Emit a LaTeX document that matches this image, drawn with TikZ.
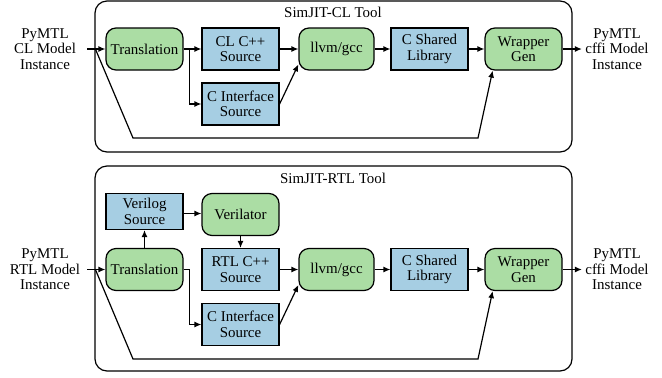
\documentclass[tikz,border=0pt]{standalone}
\usepackage{fontspec}
\setmainfont{Liberation Serif}
\usetikzlibrary{arrows.meta,calc}
\definecolor{stagegreen}{RGB}{171,221,164}
\definecolor{fileblue}{RGB}{166,206,227}
\tikzset{
  stage/.style={draw, line width=1.2bp, fill=stagegreen, rounded corners=10bp, minimum width=77bp, minimum height=42bp, align=center, inner sep=1bp},
  srcfile/.style={draw, line width=1.2bp, fill=fileblue, minimum width=77bp, minimum height=42bp, align=center, inner sep=1bp},
  flow/.style={line width=1.2bp, -{Latex[length=7bp,width=6bp]}},
  wire/.style={line width=1.2bp},
  toolbox/.style={draw, line width=1.2bp, rounded corners=12bp},
  iotext/.style={align=center}
}

\begin{document}
\begin{tikzpicture}[x=1bp, y=-1bp, font=\rmfamily\fontsize{15}{15.5}\selectfont]
		\useasboundingbox (0,0) rectangle (662,377);
		
		%%%%% CL TOOL %%%%%
		
		\draw[toolbox] (95,1) rectangle (572,152);
		\node (cltitle) at (333,12) {SimJIT-CL Tool};
		
		\node[iotext] (clin) at (45,49) {PyMTL\\CL Model\\Instance};
		\node[iotext] (clout) at (617,49) {PyMTL\\cffi Model\\Instance};
		\coordinate (clsrc) at (87,49);
		
		\node[stage] (cltrans) at (144.5,49) {Translation};
		\node[srcfile] (clcpp) at (240.5,49) {CL C++\\Source};
		\node[srcfile] (clcif) at (240.5,104) {C Interface\\Source};
		\node[stage, minimum width=75bp] (clllvm) at (336.5,49) {llvm/gcc};
		\node[srcfile] (cllib) at (429.5,49) {C Shared\\Library};
		\node[stage] (clwrap) at (523.5,49) {Wrapper\\Gen};
		
		\coordinate (cljoin) at ($(cltrans.west)+(-10,0)$);
		\coordinate (clfork) at ($(cltrans.east)+(6,0)$);
		\coordinate (clturn) at (133,138);
		\coordinate (clrise) at (478,138);
		
		\draw[flow] (clsrc) -- (cltrans.west);
		\draw[flow] (cltrans.east) -- (clcpp.west);
		\draw[flow] (clfork) |- (clcif.west);
		\draw[flow] (clcpp.east) -- (clllvm.west);
		\draw[flow] (clcif.east) -- (clllvm.202);
		\draw[flow] (clllvm.east) -- (cllib.west);
		\draw[flow] (cllib.east) -- (clwrap.west);
		\draw[flow] (clwrap.east) -- (clout.west);
		\draw[flow] (cljoin) -- (clturn) -- (clrise) -- (clwrap.215);
		
		%%%%% RTL TOOL %%%%%
		
		\draw[toolbox] (95,166) rectangle (572,371);
		\node (rtltitle) at (333,178) {SimJIT-RTL Tool};
		
		\node[iotext] (rtlin) at (45,269.5) {PyMTL\\RTL Model\\Instance};
		\node[iotext] (rtlout) at (617,269.5) {PyMTL\\cffi Model\\Instance};
		\coordinate (rtlsrc) at (87,269.5);
		
		\node[srcfile, minimum height=36bp] (rtlvlog) at (144.5,211.5) {Verilog\\Source};
		\node[stage] (rtlvtor) at (240.5,214.5) {Verilator};
		\node[stage] (rtltrans) at (144.5,269.5) {Translation};
		\node[srcfile] (rtlcpp) at (240.5,269.5) {RTL C++\\Source};
		\node[srcfile] (rtlcif) at (240.5,324.5) {C Interface\\Source};
		\node[stage, minimum width=75bp] (rtlllvm) at (336.5,269.5) {llvm/gcc};
		\node[srcfile] (rtllib) at (429.5,269.5) {C Shared\\Library};
		\node[stage] (rtlwrap) at (523.5,269.5) {Wrapper\\Gen};
		
		\coordinate (rtljoin) at ($(rtltrans.west)+(-10,0)$);
		\coordinate (rtlfork) at ($(rtltrans.east)+(6,0)$);
		\coordinate (rtlturn) at (133,359);
		\coordinate (rtlrise) at (478,359);
		
		\draw[flow] (rtlsrc) -- (rtltrans.west);
		\draw[flow] (rtltrans.north) -- (rtlvlog.south);
		\draw[flow] (rtlvlog.east |- rtlvlog.center) ++(0,2) -- ($(rtlvtor.west)+(0,-1)$);
		\draw[flow] (rtlvtor.south) -- (rtlcpp.north);
		\draw[wire] (rtltrans.east) -- (rtlfork);
		\draw[flow] (rtlfork) |- (rtlcif.west);
		\draw[flow] (rtlcpp.east) -- (rtlllvm.west);
		\draw[flow] (rtlcif.east) -- (rtlllvm.202);
		\draw[flow] (rtlllvm.east) -- (rtllib.west);
		\draw[flow] (rtllib.east) -- (rtlwrap.west);
		\draw[flow] (rtlwrap.east) -- (rtlout.west);
		\draw[flow] (rtljoin) -- (rtlturn) -- (rtlrise) -- (rtlwrap.215);
		
		%%%%% END %%%%%
	\end{tikzpicture}
\end{document}
